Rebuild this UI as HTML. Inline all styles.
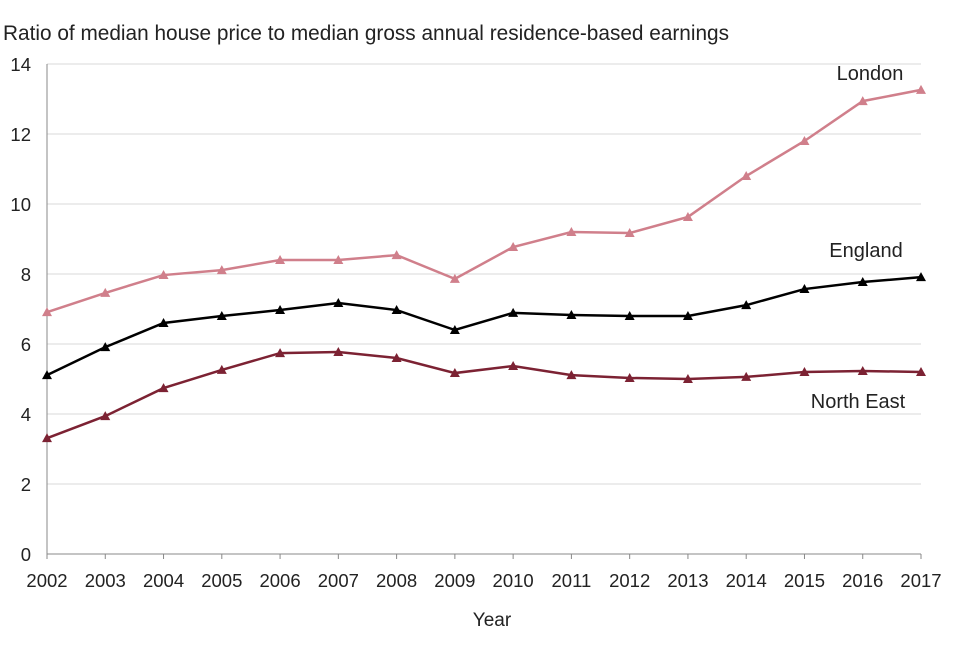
<!DOCTYPE html>
<html><head><meta charset="utf-8"><style>
body{margin:0;background:#fff}
svg text{font-family:"Liberation Sans",Arial,sans-serif;fill:#222}
</style></head><body>
<svg id="chart" width="960" height="640" xmlns="http://www.w3.org/2000/svg">
<text x="3" y="40" font-size="20.8">Ratio of median house price to median gross annual residence-based earnings</text>
<g id="grid"></g><g id="axes"></g><g id="series"></g>
<text x="492" y="626" font-size="19" text-anchor="middle">Year</text>
</svg>
<script>
const years=[2002,2003,2004,2005,2006,2007,2008,2009,2010,2011,2012,2013,2014,2015,2016,2017];
const london=[6.91,7.46,7.97,8.11,8.4,8.4,8.54,7.86,8.77,9.2,9.17,9.63,10.8,11.8,12.94,13.26];
const england=[5.11,5.91,6.6,6.8,6.97,7.17,6.97,6.4,6.89,6.83,6.8,6.8,7.11,7.57,7.77,7.91];
const northEast=[3.31,3.94,4.74,5.26,5.74,5.77,5.6,5.17,5.37,5.11,5.03,5.0,5.06,5.2,5.23,5.2];
const yTicks=[0,2,4,6,8,10,12,14];
const NS="http://www.w3.org/2000/svg";
const x0=47,x1=921,y0=554,y1=64;
const xs=i=>x0+(x1-x0)*i/(years.length-1);
const ys=v=>y0-(y0-y1)*v/14;
function mk(t,a,p){const e=document.createElementNS(NS,t);for(const k in a)e.setAttribute(k,a[k]);p.appendChild(e);return e;}
const grid=document.getElementById('grid'),axes=document.getElementById('axes'),ser=document.getElementById('series');
yTicks.forEach(v=>{
  const l=mk('line',{x1:x0,x2:x1,y1:ys(v),y2:ys(v),stroke:v===0?'#888':'#d9d9d9','stroke-width':1},grid);
  
  
  const t=mk('text',{x:31,y:ys(v)+7,'font-size':18.5,'text-anchor':'end'},axes);t.textContent=v;
  
  
});
const ax=mk('line',{x1:x0,x2:x0,y1:y1,y2:y0,stroke:'#888'},axes);


years.forEach((y,i)=>{
  const tk=mk('line',{x1:xs(i),x2:xs(i),y1:y0,y2:y0+5,stroke:'#888'},axes);
  
  
  const t=mk('text',{x:xs(i),y:587,'font-size':18.5,'text-anchor':'middle'},axes);t.textContent=y;
  
  
});
function draw(vals,color,name,label,lx,ly){
  const g=mk('g',{},ser);
  
  
  const p=mk('polyline',{points:vals.map((v,i)=>xs(i)+','+ys(v)).join(' '),fill:'none',stroke:color,'stroke-width':2.5},g);
  
  
  vals.forEach((v,i)=>{
    const cx=xs(i),cy=ys(v);
    const m=mk('polygon',{points:`${cx-5},${cy+4} ${cx+5},${cy+4} ${cx},${cy-5}`,fill:color},g);
    
    
  });
  const t=mk('text',{x:lx,y:ly,'font-size':20,'text-anchor':'middle'},g);t.textContent=label;
  
  
}
draw(london,'#d07f8b','london','London',870,80);
draw(england,'#000000','england','England',866,257);
draw(northEast,'#7c2233','north-east','North East',858,408);
</script>
</body></html>
